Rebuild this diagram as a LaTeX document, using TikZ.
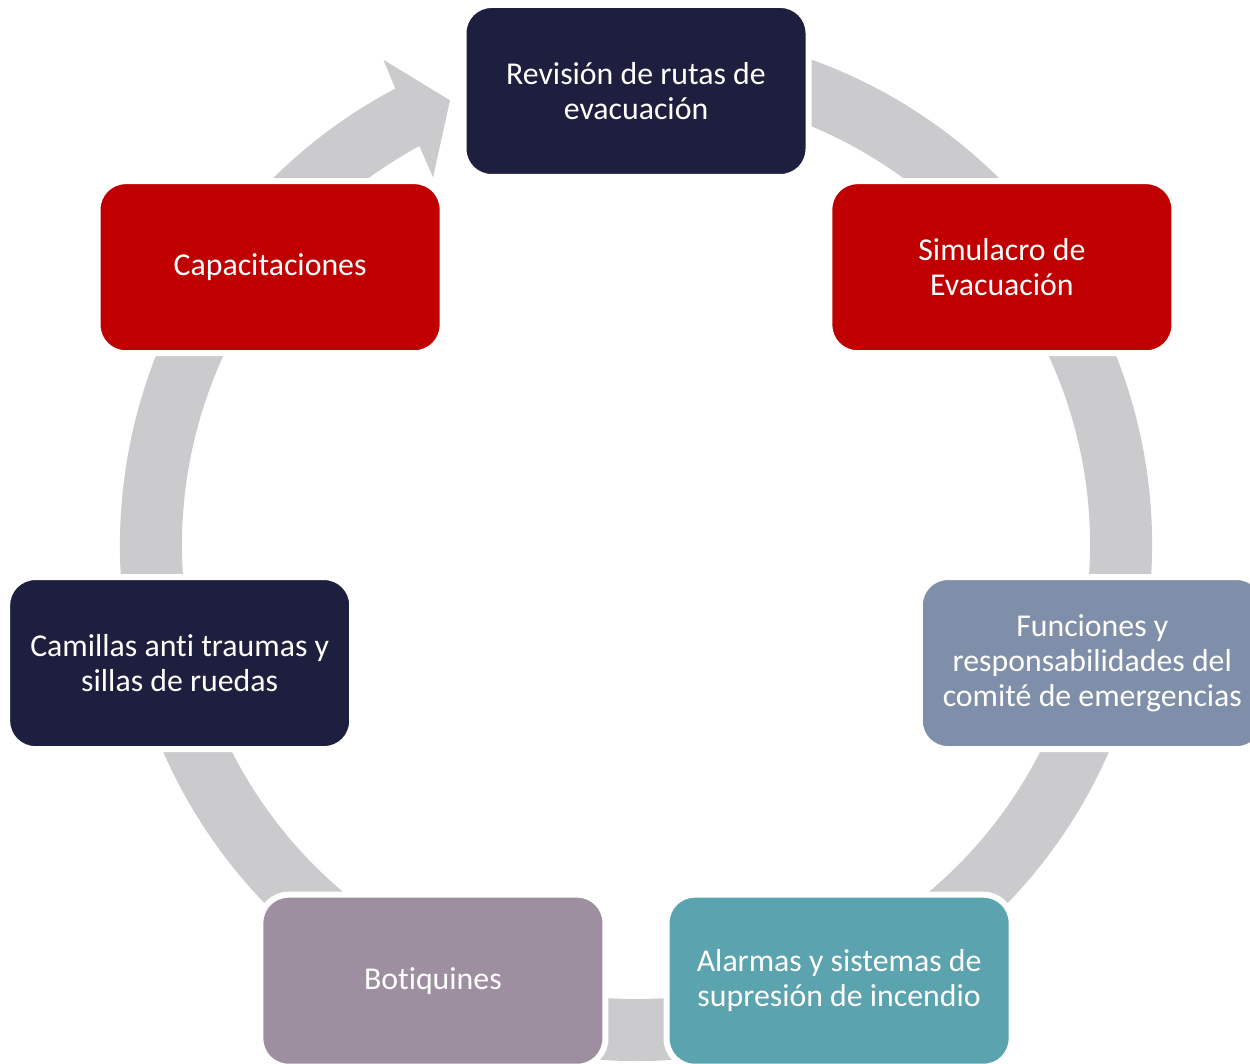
\documentclass[tikz,border=0pt]{standalone}
\usepackage{fontspec}
\setmainfont{Carlito}[Ligatures={NoCommon}]
\definecolor{navy}{HTML}{1E1F3F}
\definecolor{rojo}{HTML}{C00000}
\definecolor{azulgris}{HTML}{7F8FA9}
\definecolor{turquesa}{HTML}{5BA3AE}
\definecolor{malva}{HTML}{9E8FA0}
\definecolor{anillo}{HTML}{CBCBCD}

\begin{document}
\begin{tikzpicture}[x=1pt,y=1pt,etapa/.style={rectangle, rounded corners=28pt, draw=white, line width=6pt, minimum width=345pt, minimum height=172pt, align=center, text=white, font=\fontsize{31.8}{35}\selectfont}]
\clip (0,0) rectangle (1250,1063);
\fill[white] (0,0) rectangle (1250,1063);
% grey ring with arrowhead
\fill[anillo, shift={(636,518)}] (80:516) arc[start angle=80, end angle=-242.2, radius=516] -- (-242.5:547) -- (-247.3:482) -- (-241.1:420) -- (-241.5:454) arc[start angle=-241.5, end angle=80, radius=454] -- cycle;
\node[etapa, fill=navy] (1) at (636,972) {Revisión de rutas de\\evacuación};
\node[etapa, fill=rojo] (2) at (1001.9,795.8) {Simulacro de\\Evacuación};
\node[etapa, fill=azulgris] (3) at (1092.3,399.9) {Funciones y\\responsabilidades del\\comité de emergencias};
\node[etapa, fill=turquesa] (4) at (839.1,82.3) {Alarmas y sistemas de\\supresión de incendio};
\node[etapa, fill=malva] (5) at (432.9,82.3) {Botiquines};
\node[etapa, fill=navy] (6) at (179.7,399.9) {Camillas anti traumas y\\sillas de ruedas};
\node[etapa, fill=rojo] (7) at (270.1,795.8) {Capacitaciones};
\end{tikzpicture}
\end{document}
